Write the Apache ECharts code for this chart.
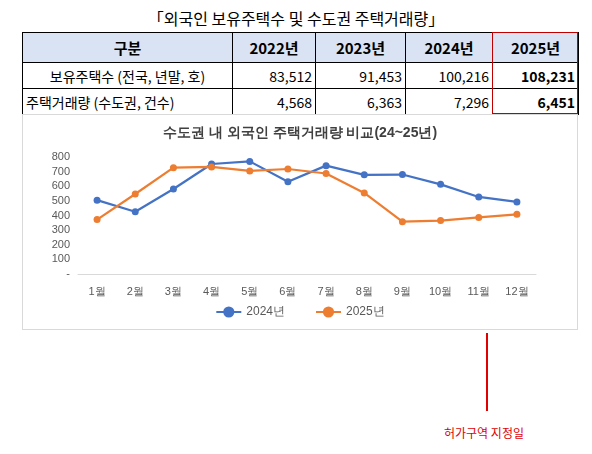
<!DOCTYPE html>
<html><head><meta charset="utf-8">
<script src="https://cdn.jsdelivr.net/npm/echarts@6/dist/echarts.min.js"></script>
<style>
body{margin:0;background:#fff;font-family:"Noto Sans CJK KR",sans-serif;}
#title{position:absolute;left:0;width:592px;top:6px;text-align:center;font-size:16px;}
table{position:absolute;left:22px;top:32px;border-collapse:collapse;font-size:14px;}
td{border:1px solid #000;height:25px;padding:0 3px;text-align:right;}
tr.h td{background:#dae3f3;text-align:center;font-weight:bold;height:29px;font-size:15px;}
#redbox{position:absolute;left:492px;top:32px;width:86px;height:82px;border:1px solid #c00000;box-sizing:border-box;}
#main{position:absolute;left:22px;top:114px;width:556px;height:216px;border:1px solid #d9d9d9;box-sizing:border-box;}
#vline{position:absolute;left:486px;top:333px;width:2px;height:78px;background:#e00000;}
#note{position:absolute;left:444px;top:424px;font-size:12px;color:#e00000;}
</style></head><body>
<div id="title">「외국인 보유주택수 및 수도권 주택거래량」</div>
<table>
<tr class="h"><td style="width:203px">구분</td><td style="width:76px">2022년</td><td style="width:83px">2023년</td><td style="width:80px">2024년</td><td style="width:79px">2025년</td></tr>
<tr><td style="text-align:center">보유주택수 (전국, 년말, 호)</td><td>83,512</td><td>91,453</td><td>100,216</td><td><b>108,231</b></td></tr>
<tr><td style="text-align:left">주택거래량 (수도권, 건수)</td><td>4,568</td><td>6,363</td><td>7,296</td><td><b>6,451</b></td></tr>
</table>
<div id="redbox"></div>
<div id="main"></div>
<div id="vline"></div>
<div id="note">허가구역 지정일</div>
<script>
var months = ['1월','2월','3월','4월','5월','6월','7월','8월','9월','10월','11월','12월'];
var data2024 = [505,426,581,752,770,631,741,678,680,613,527,493];
var data2025 = [372,547,727,732,705,718,687,554,358,365,387,408];
var myChart = echarts.init(document.getElementById('main'));
option = {
  title:{text:'수도권 내 외국인 주택거래량 비교(24~25년)',left:'center',top:6,
    textStyle:{fontSize:14,fontWeight:'bold',color:'#404040'}},
  legend:{bottom:6,itemGap:30,textStyle:{color:'#595959',fontSize:12},
    data:['2024년','2025년']},
  grid:{left:55,right:41,top:42,bottom:55},
  xAxis:{type:'category',data:months,
    axisLine:{lineStyle:{color:'#d9d9d9'}},axisTick:{show:false},
    axisLabel:{color:'#595959',fontSize:11,margin:12}},
  yAxis:{type:'value',min:0,max:800,interval:100,
    splitLine:{show:false},axisLine:{show:false},axisTick:{show:false},
    axisLabel:{color:'#595959',fontSize:11,formatter:function(v){return v===0?'-':v;}}},
  series:[
    {name:'2024년',type:'line',data:data2024,color:'#4472c4',symbol:'circle',symbolSize:7,lineStyle:{width:2.2}},
    {name:'2025년',type:'line',data:data2025,color:'#ed7d31',symbol:'circle',symbolSize:7,lineStyle:{width:2.2}}
  ]
};
myChart.setOption(option);
</script>
</body></html>
